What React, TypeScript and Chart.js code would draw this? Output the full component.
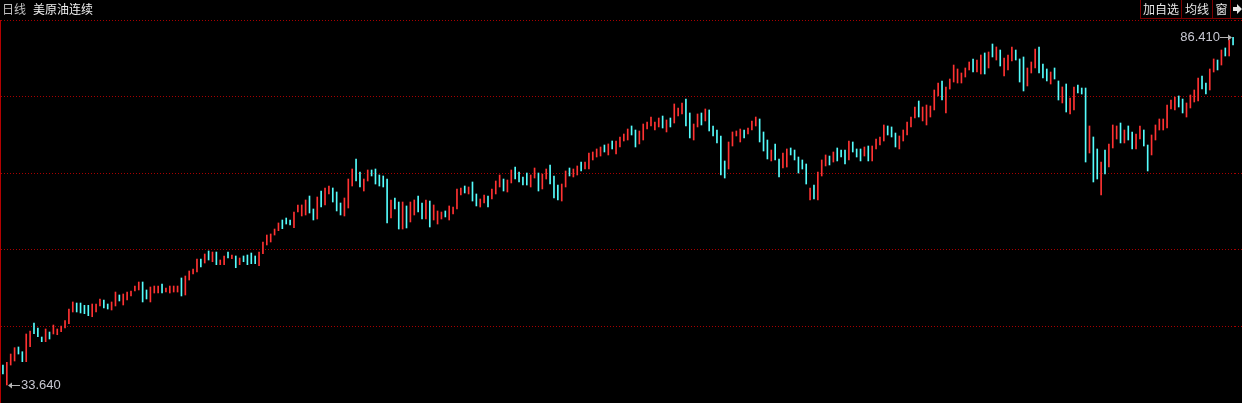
import React, { useEffect, useRef } from "react";
import { Chart, registerables } from "chart.js";

Chart.register(...registerables);

const period = "日线";
const title = "美原油连续";
const buttons = ["加自选", "均线", "窗"];

const highs: number[] = [
  36.67, 37.08, 38.34, 39.30, 39.41, 38.69, 41.38, 41.83, 43.05, 42.29,
  40.92, 42.14, 41.68, 42.74, 42.14, 42.59, 43.40, 45.17, 46.24, 46.08,
  46.08, 45.73, 45.73, 45.93, 45.93, 46.69, 46.54, 45.93, 46.24, 47.75,
  47.30, 47.45, 47.75, 47.90, 48.66, 49.27, 49.27, 48.06, 48.51, 48.66,
  48.66, 48.97, 48.36, 48.66, 48.66, 48.66, 49.88, 50.18, 50.94, 51.24,
  52.76, 52.76, 53.52, 53.98, 53.82, 53.82, 52.61, 53.22, 53.82, 53.37,
  53.22, 52.91, 53.22, 53.37, 53.67, 53.22, 53.82, 55.34, 56.40, 56.56,
  57.31, 58.23, 58.68, 58.98, 58.68, 59.89, 60.96, 60.96, 61.72, 62.32,
  60.35, 62.17, 63.08, 63.54, 63.84, 63.54, 62.93, 61.26, 62.02, 64.90,
  66.42, 67.94, 65.97, 64.90, 66.27, 66.27, 66.42, 65.51, 65.36, 64.90,
  61.72, 62.02, 61.41, 61.41, 60.81, 61.41, 61.72, 62.32, 61.26, 61.72,
  61.56, 60.96, 60.05, 59.89, 60.05, 60.81, 60.65, 63.39, 63.54, 63.84,
  63.69, 64.45, 62.63, 61.87, 62.47, 62.32, 63.39, 64.60, 65.51, 64.90,
  64.75, 66.27, 66.72, 65.97, 65.21, 65.81, 65.51, 66.57, 65.81, 65.66,
  66.42, 67.03, 65.36, 63.99, 64.14, 66.12, 66.57, 66.42, 66.88, 67.48,
  67.48, 68.85, 69.00, 69.46, 69.76, 70.06, 70.22, 70.67, 70.67, 71.28,
  71.73, 72.49, 72.95, 72.34, 72.19, 73.25, 73.55, 74.31, 73.55, 74.16,
  74.46, 73.86, 74.16, 76.29, 75.68, 76.44, 77.04, 74.92, 73.25, 74.77,
  74.92, 75.53, 75.38, 72.95, 72.34, 71.43, 67.64, 70.52, 72.04, 72.19,
  72.49, 72.34, 72.64, 73.71, 74.31, 74.01, 72.04, 70.82, 69.30, 70.22,
  67.94, 68.85, 69.46, 69.61, 69.30, 68.24, 67.79, 67.18, 63.54, 63.99,
  65.97, 67.79, 68.55, 68.39, 69.00, 69.61, 69.30, 69.30, 70.67, 70.52,
  69.46, 69.46, 69.76, 69.91, 69.91, 70.97, 71.28, 73.10, 72.95, 72.80,
  71.88, 71.43, 72.34, 73.55, 74.31, 75.83, 76.74, 75.83, 76.13, 75.98,
  78.41, 79.47, 79.78, 78.87, 80.08, 82.20, 81.60, 80.99, 81.75, 82.66,
  83.12, 82.96, 83.72, 84.03, 84.18, 85.39, 84.94, 84.48, 83.27, 83.72,
  84.94, 84.48, 83.12, 83.42, 81.75, 82.66, 84.63, 84.94, 82.36, 81.60,
  81.14, 81.75, 79.78, 78.87, 79.32, 77.20, 78.87, 79.17, 78.71, 78.71,
  72.95, 71.28, 69.46, 67.48, 69.30, 70.22, 73.10, 72.95, 73.40, 72.34,
  72.95, 72.04, 71.73, 72.95, 72.34, 70.06, 71.58, 73.10, 74.01, 74.01,
  76.13, 76.89, 77.35, 77.50, 77.04, 76.44, 77.65, 78.41, 80.23, 80.54,
  79.47, 81.60, 83.12, 82.96, 84.48, 84.79, 86.00, 86.41,
];

const lows: number[] = [
  35.31, 33.64, 36.67, 37.28, 38.34, 37.18, 37.18, 39.45, 41.42, 40.97,
  40.21, 40.21, 40.62, 41.38, 41.27, 41.73, 42.29, 42.94, 44.72, 44.72,
  44.57, 44.46, 44.16, 44.00, 44.72, 45.63, 45.32, 45.17, 45.02, 45.63,
  46.39, 45.78, 46.54, 47.15, 47.90, 48.06, 46.24, 46.69, 46.24, 47.60,
  47.60, 47.60, 47.75, 47.60, 47.75, 47.75, 47.15, 47.30, 49.57, 50.49,
  50.79, 51.55, 52.15, 52.61, 52.35, 51.90, 51.90, 51.90, 52.91, 52.81,
  51.44, 51.90, 52.35, 51.90, 52.05, 52.05, 51.74, 53.57, 54.89, 55.34,
  56.40, 57.06, 57.36, 58.07, 57.92, 57.51, 59.89, 59.29, 59.44, 59.74,
  58.68, 58.83, 60.65, 60.96, 62.63, 61.41, 60.05, 59.44, 59.29, 60.50,
  63.84, 64.60, 63.69, 63.08, 64.60, 65.36, 64.14, 63.84, 63.69, 58.23,
  58.98, 60.35, 57.31, 57.31, 57.47, 58.38, 59.44, 59.89, 58.83, 58.83,
  57.62, 58.68, 58.07, 58.83, 59.14, 58.68, 59.59, 60.35, 62.47, 62.78,
  62.63, 61.56, 60.81, 60.65, 61.26, 60.65, 61.87, 62.63, 63.69, 63.08,
  62.93, 64.30, 64.90, 64.45, 63.99, 63.99, 63.69, 65.05, 63.08, 63.39,
  64.90, 64.14, 62.02, 61.72, 61.56, 63.69, 65.36, 65.21, 65.51, 66.12,
  66.42, 66.42, 67.79, 68.24, 68.39, 69.00, 68.55, 69.46, 68.70, 69.76,
  70.67, 70.82, 71.58, 69.76, 70.22, 70.82, 72.49, 72.95, 72.34, 72.80,
  72.64, 72.04, 72.80, 73.40, 74.46, 74.77, 72.95, 71.13, 70.82, 72.80,
  73.10, 73.71, 72.19, 71.43, 70.37, 65.51, 65.05, 66.42, 69.91, 71.43,
  70.52, 71.13, 71.73, 72.34, 72.95, 70.52, 69.15, 67.94, 67.64, 67.79,
  65.21, 66.57, 66.72, 68.55, 67.79, 65.81, 66.42, 64.14, 61.72, 61.87,
  61.72, 65.36, 66.88, 67.03, 67.48, 67.64, 68.24, 67.18, 67.79, 69.00,
  68.24, 67.64, 68.39, 67.64, 67.64, 69.46, 70.06, 70.67, 71.58, 71.28,
  69.76, 69.46, 70.67, 71.58, 72.80, 74.16, 74.31, 73.71, 73.10, 74.31,
  75.38, 77.50, 76.89, 74.92, 78.56, 79.62, 79.47, 79.47, 80.38, 81.45,
  81.14, 81.14, 80.84, 80.84, 81.75, 83.42, 82.96, 82.05, 80.54, 81.45,
  82.81, 82.96, 79.62, 78.26, 79.02, 80.99, 81.75, 80.99, 80.23, 79.78,
  79.32, 80.08, 76.89, 76.44, 75.07, 74.77, 75.38, 77.96, 77.80, 67.48,
  68.85, 64.45, 64.90, 62.47, 65.66, 66.72, 69.61, 70.97, 70.37, 70.37,
  70.82, 69.46, 69.46, 70.97, 69.91, 66.12, 68.55, 70.82, 72.34, 72.34,
  72.64, 75.53, 75.38, 75.83, 74.92, 74.31, 75.68, 76.59, 76.74, 78.56,
  77.80, 78.41, 81.14, 81.45, 82.20, 83.57, 83.57, 85.24,
];

// u = rising bar (red), d = falling bar (cyan)
const dirs: string[] = (
  "duuudduudd" + "duduuuuuud" + "ddduuudduu" + "duuuuudduu" + "uduuuuduuu" +
  "udududuudu" + "dudddduuuu" + "uuddduuuud" + "duduuddduu" + "udduuddddd" +
  "udduduuddu" + "duuuduuuud" + "udduuduuud" + "uudddduudu" + "uddduuduud" +
  "uuuuududuu" + "uudduuuuuu" + "duduuudduu" + "duddddduuu" + "uduuudddud" +
  "duudddddud" + "uuududddud" + "dduduuuudd" + "duuuuuduuu" + "uuduuuuuuu" +
  "duudududuu" + "uddduuuddd" + "udduduuddd" + "udduduuudu" + "dduudduuuu" +
  "uuudduuuud" + "duududud"
).split("");

const UP = "#ff3232";
const DOWN = "#54fcfc";
const GRID = "#a80000";

export default function App() {
  const ref = useRef<HTMLCanvasElement | null>(null);

  useEffect(() => {
    if (!ref.current) return;
    const labels = highs.map((_, i) => String(i + 1));
    const maxHigh = Math.max(...highs);
    const minLow = Math.min(...lows);
    const range = maxHigh - minLow;
    const yMin = minLow - range * 0.0518;
    const yMax = maxHigh + range * 0.0497;
    const iMax = highs.indexOf(maxHigh);
    const iMin = lows.indexOf(minLow);

    const extremes = {
      id: "extremes",
      afterDatasetsDraw(chart: any) {
        const ctx = chart.ctx as CanvasRenderingContext2D;
        const xs = chart.scales.x;
        const ys = chart.scales.y;
        ctx.save();
        ctx.font = '13px "Liberation Sans", Arial, sans-serif';
        ctx.textBaseline = "middle";
        ctx.lineWidth = 1;
        ctx.strokeStyle = "#b4b4b4";
        // max label
        let x = Math.round(xs.getPixelForValue(iMax));
        let y = Math.round(ys.getPixelForValue(maxHigh)) + 0.5;
        ctx.beginPath();
        ctx.moveTo(x - 13, y);
        ctx.lineTo(x - 3, y);
        ctx.stroke();
        ctx.fillStyle = "#b4b4b4";
        ctx.beginPath();
        ctx.moveTo(x - 1, y);
        ctx.lineTo(x - 5, y - 3);
        ctx.lineTo(x - 5, y + 3);
        ctx.closePath();
        ctx.fill();
        ctx.fillStyle = "#c8c8d2";
        ctx.textAlign = "right";
        ctx.fillText(maxHigh.toFixed(3), x - 13, y);
        // min label
        x = Math.round(xs.getPixelForValue(iMin));
        y = Math.round(ys.getPixelForValue(minLow)) + 0.5;
        ctx.beginPath();
        ctx.moveTo(x + 4, y);
        ctx.lineTo(x + 13, y);
        ctx.stroke();
        ctx.fillStyle = "#b4b4b4";
        ctx.beginPath();
        ctx.moveTo(x + 1, y);
        ctx.lineTo(x + 5, y - 3);
        ctx.lineTo(x + 5, y + 3);
        ctx.closePath();
        ctx.fill();
        ctx.fillStyle = "#c8c8d2";
        ctx.textAlign = "left";
        ctx.fillText(minLow.toFixed(3), x + 14, y);
        ctx.restore();
      },
    };

    const chart = new Chart(ref.current, {
      type: "bar",
      data: {
        labels,
        datasets: [
          {
            data: highs.map((h, i) => [lows[i], h]) as any,
            backgroundColor: dirs.map((d) => (d === "u" ? UP : DOWN)),
            borderWidth: 0,
            barThickness: 1,
          },
        ],
      },
      options: {
        animation: false,
        responsive: false,
        maintainAspectRatio: false,
        events: [],
        layout: { padding: { left: 1, right: 0, top: 20, bottom: 0 } },
        plugins: { legend: { display: false }, tooltip: { enabled: false } },
        scales: {
          x: { display: false, offset: true },
          y: {
            position: "right",
            min: yMin,
            max: yMax,
            afterBuildTicks: (scale: any) => {
              scale.ticks = [0, 1, 2, 3, 4, 5].map((k) => ({
                value: yMin + (k * (yMax - yMin)) / 5,
              }));
            },
            ticks: { display: false },
            border: { display: false, dash: [1, 2] },
            grid: {
              color: GRID,
              lineWidth: 1,
              drawTicks: true,
              tickLength: 7,
              tickColor: GRID,
              tickBorderDash: [1, 2],
            },
          },
        },
      } as any,
      plugins: [extremes],
    });
    return () => chart.destroy();
  }, []);

  const cjk = '"Noto Sans CJK SC", "Noto Sans", sans-serif';
  const boxW = [41, 31, 18];
  let left = 1140;
  return (
    <div
      style={{
        position: "relative",
        width: 1242,
        height: 403,
        background: "#000",
        overflow: "hidden",
      }}
    >
      <style>{`body{margin:0;background:#000}`}</style>
      <canvas
        ref={ref}
        width={1242}
        height={403}
        style={{ position: "absolute", left: 0, top: 0, width: 1242, height: 403 }}
      />
      <div style={{ position: "absolute", left: 0, top: 20, width: 1, height: 383, background: "#b40000" }} />
      <div
        style={{
          position: "absolute",
          left: 2,
          top: 2,
          font: `12px/14px ${cjk}`,
          color: "#c0c0c0",
          whiteSpace: "nowrap",
        }}
      >
        {period}
      </div>
      <div
        style={{
          position: "absolute",
          left: 33,
          top: 2,
          font: `12px/14px ${cjk}`,
          color: "#f0f0f0",
          whiteSpace: "nowrap",
        }}
      >
        {title}
      </div>
      {buttons.map((b, i) => {
        const l = left;
        left += boxW[i];
        return (
          <div
            key={b}
            style={{
              position: "absolute",
              left: l,
              top: 0,
              width: boxW[i],
              height: 19,
              boxSizing: "border-box",
              borderLeft: "1px solid #7a0000",
              borderBottom: "1px solid #7a0000",
              font: `12px/18px ${cjk}`,
              color: "#e6e6e6",
              textAlign: "center",
              whiteSpace: "nowrap",
            }}
          >
            {b}
          </div>
        );
      })}
      <div
        style={{
          position: "absolute",
          left: 1230,
          top: 0,
          width: 12,
          height: 19,
          boxSizing: "border-box",
          borderLeft: "1px solid #7a0000",
          borderBottom: "1px solid #7a0000",
        }}
      >
        <svg width="11" height="18" style={{ position: "absolute", left: 2, top: 0 }}>
          <path d="M0 7 H4 V4 L9 9 L4 14 V11 H0 Z" fill="#e6e6e6" />
        </svg>
      </div>
    </div>
  );
}
